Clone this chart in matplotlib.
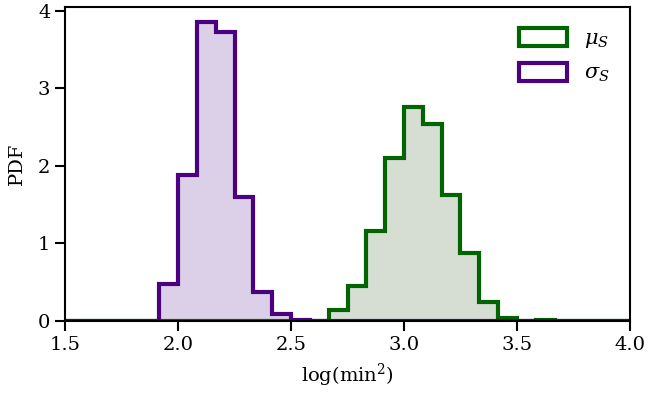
import matplotlib
matplotlib.use("Agg")
import matplotlib.pyplot as plt
from matplotlib.patches import Patch
import numpy as np

plt.rcParams["font.family"] = "DejaVu Serif"
plt.rcParams["mathtext.fontset"] = "dejavuserif"

# shared bin edges, log(min^2)
bin_edges = np.linspace(1.5, 4.0, 31)

# densities per bin
sigma_pdf = [0, 0, 0, 0, 0,
             0.475, 1.88, 3.86, 3.73, 1.595,
             0.37, 0.087, 0.01, 0, 0,
             0, 0, 0, 0, 0,
             0, 0, 0, 0, 0,
             0, 0, 0, 0, 0]
mu_pdf = [0, 0, 0, 0, 0,
          0, 0, 0, 0, 0,
          0, 0, 0, 0.005, 0.142,
          0.453, 1.155, 2.10, 2.76, 2.545,
          1.62, 0.875, 0.24, 0.04, 0.005,
          0.015, 0, 0, 0, 0]

mu_color = "#006400"
mu_fill = "#d6ded4"
sigma_color = "#4b0082"
sigma_fill = "#dcd0e8"

fig = plt.figure(figsize=(6.49, 3.97), dpi=100)
ax = fig.add_axes([0.1002, 0.1914, 0.8705, 0.7917])

ax.stairs(mu_pdf, bin_edges, fill=True, facecolor=mu_fill, edgecolor="none")
ax.stairs(sigma_pdf, bin_edges, fill=True, facecolor=sigma_fill, edgecolor="none")
ax.stairs(mu_pdf, bin_edges, color=mu_color, lw=3)
ax.stairs(sigma_pdf, bin_edges, color=sigma_color, lw=3)

ax.set_xlim(1.5, 4.0)
ax.set_xticks([1.5, 2.0, 2.5, 3.0, 3.5, 4.0])
ax.set_yticks([0, 1, 2, 3, 4])
ax.set_xlabel(r"log(min$^2$)", fontsize=14, labelpad=6)
ax.set_ylabel("PDF", fontsize=14, labelpad=9)
ax.tick_params(axis="both", labelsize=14, length=7, width=1.5)
for sp in ax.spines.values():
    sp.set_linewidth(1.5)

handles = [Patch(facecolor="white", edgecolor=mu_color, lw=3, label=r"$\mu_S$"),
           Patch(facecolor="white", edgecolor=sigma_color, lw=3, label=r"$\sigma_S$")]
ax.legend(handles=handles, loc="upper right", frameon=False, fontsize=15,
          handlelength=2.3, handleheight=1.0, labelspacing=0.6,
          borderaxespad=0.6)

fig.savefig("out.png", dpi=100)
